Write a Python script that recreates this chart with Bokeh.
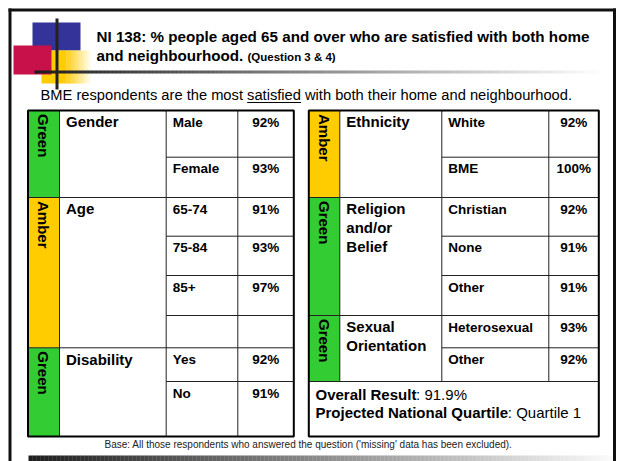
import math
import numpy as np
from bokeh.plotting import figure
from bokeh.models import Range1d
from bokeh.embed import file_html
from bokeh.resources import INLINE
from bokeh.core.properties import value

# ---------------- data ----------------
title_line1 = "NI 138: % people aged 65 and over who are satisfied with both home"
title_line2 = "and neighbourhood."
title_note = "(Question 3 & 4)"
subtitle = "BME respondents are the most satisfied with both their home and neighbourhood."
base_note = "Base: All those respondents who answered the question ('missing' data has been excluded)."

left_groups = ["Gender", "Age", "Disability"]
left_ratings = ["Green", "Amber", "Green"]
left_items = [["Male", "Female"], ["65-74", "75-84", "85+", ""], ["Yes", "No"]]
left_values = [[92, 93], [91, 93, 97, None], [92, 91]]

right_groups = ["Ethnicity", "Religion\nand/or\nBelief", "Sexual\nOrientation"]
right_ratings = ["Amber", "Green", "Green"]
right_items = [["White", "BME"], ["Christian", "None", "Other"], ["Heterosexual", "Other"]]
right_values = [[92, 100], [92, 91, 91], [93, 92]]

overall_label = "Overall Result"
overall_value = 91.9
quartile_label = "Projected National Quartile"
quartile_value = "Quartile 1"

# ---------------- layout (page pixels) ----------------
W, H = 618, 461
def X(px):
    return px
def Y(py):
    return H - py
def TB(baseline, size):
    # y for a 'middle'-anchored text whose baseline should sit at `baseline`
    return Y(baseline - 0.37 * size)

FONT = value("Liberation Sans")
RATING_COLORS = {"Green": "#33CC33", "Amber": "#FFCC00"}
L_COLS = [27.5, 59, 165.7, 237.3, 293.3]
R_COLS = [308.3, 339.3, 441.3, 548.3, 598.3]
ROW_EDGES = [110, 156.7, 197, 235.7, 275, 315, 347.3, 381, 436]

p = figure(width=W, height=H, x_range=Range1d(0, W), y_range=Range1d(0, H),
           output_backend="svg", toolbar_location=None, min_border=0,
           x_axis_location=None, y_axis_location=None)
p.grid.visible = False
p.outline_line_color = None
p.background_fill_color = "white"
p.border_fill_color = "white"


def mix(c0, c1, t):
    return "#%02x%02x%02x" % tuple(int(round(a + (b - a) * t)) for a, b in zip(c0, c1))


# ---------------- slide frame ----------------
p.segment(x0=[X(8), X(9.5), X(614)], y0=[Y(9.5), Y(8), Y(8)],
          x1=[X(615.5), X(9.5), X(614)], y1=[Y(9.5), Y(461), Y(461)],
          line_color="#111111", line_width=3)
bx = np.linspace(28, 612, 147)
p.quad(left=[X(a) for a in bx[:-1]], right=[X(b) + 0.3 for b in bx[1:]],
       top=Y(455), bottom=Y(461),
       color=[mix((30, 30, 30), (250, 250, 250), t) for t in np.linspace(0, 1, len(bx) - 1)],
       line_color=None)

# ---------------- logo ----------------
p.quad(left=X(32), right=X(80), top=Y(22), bottom=Y(50), color="#333399", line_color=None)
p.quad(left=X(41), right=X(66), top=Y(50), bottom=Y(83), color="#FFCC00", line_color=None)
gx = np.linspace(66, 92, 27)
p.quad(left=[X(a) for a in gx[:-1]], right=[X(b) + 0.3 for b in gx[1:]],
       top=Y(50), bottom=Y(83),
       color=[mix((255, 204, 0), (255, 255, 255), t) for t in np.linspace(0, 1, len(gx) - 1)],
       line_color=None)
p.quad(left=X(13), right=X(51), top=Y(45), bottom=Y(74), color="#C8104A", line_color=None)
p.segment(x0=X(56.5), y0=Y(18), x1=X(56.5), y1=Y(89), line_color="#222222", line_width=3)
hx = np.linspace(34, 606, 144)
p.segment(x0=[X(a) for a in hx[:-1]], x1=[X(b) + 0.3 for b in hx[1:]],
          y0=Y(71.5), y1=Y(71.5), line_width=3,
          line_color=[mix((26, 26, 26), (255, 255, 255), t) for t in np.linspace(0, 1, len(hx) - 1)])

# ---------------- titles ----------------
p.text(x=[X(96), X(96)], y=[TB(42, 15.2), TB(61, 15.2)], text=[title_line1, title_line2],
       text_font=FONT, text_font_style="bold", text_font_size="15.2px",
       text_color="#000000", text_baseline="middle")
p.text(x=X(247), y=TB(61, 11.5), text=[title_note], text_font=FONT, text_font_style="bold",
       text_font_size="11.5px", text_color="#000000", text_baseline="middle")
p.text(x=X(40), y=TB(100, 14.7), text=[subtitle], text_font=FONT, text_font_size="14.7px",
       text_color="#000000", text_baseline="middle")
p.segment(x0=X(246.7), x1=X(300.6), y0=Y(102), y1=Y(102), line_color="#000000", line_width=1)
p.text(x=X(104), y=TB(448, 10), text=[base_note], text_font=FONT, text_font_size="10px",
       text_color="#222222", text_baseline="middle")


# ---------------- tables ----------------
def draw_table(cols, groups, ratings, items, values, with_overall):
    spans = []
    r = 0
    for its in items:
        spans.append((r, r + len(its)))
        r += len(its)
    n_rows = r
    top, bottom = ROW_EDGES[0], ROW_EDGES[-1]
    data_bottom = ROW_EDGES[n_rows]

    # rating fills
    p.quad(left=X(cols[0]), right=X(cols[1]),
           top=[Y(ROW_EDGES[s]) for s, e in spans],
           bottom=[Y(ROW_EDGES[e]) for s, e in spans],
           color=[RATING_COLORS[c] for c in ratings], line_color=None)

    xs0, ys0, xs1, ys1 = [], [], [], []
    for s, e in spans[1:]:
        xs0.append(X(cols[0])); xs1.append(X(cols[4]))
        ys0.append(Y(ROW_EDGES[s])); ys1.append(Y(ROW_EDGES[s]))
    if with_overall:
        xs0.append(X(cols[0])); xs1.append(X(cols[4]))
        ys0.append(Y(data_bottom)); ys1.append(Y(data_bottom))
    for s, e in spans:
        for k in range(s + 1, e):
            xs0.append(X(cols[2])); xs1.append(X(cols[4]))
            ys0.append(Y(ROW_EDGES[k])); ys1.append(Y(ROW_EDGES[k]))
    for c in cols[1:4]:
        xs0.append(X(c)); xs1.append(X(c))
        ys0.append(Y(top)); ys1.append(Y(data_bottom))
    p.segment(x0=xs0, y0=ys0, x1=xs1, y1=ys1, line_color="#222222", line_width=1)

    p.quad(left=X(cols[0]), right=X(cols[4]), top=Y(top), bottom=Y(bottom),
           fill_color=None, line_color="#000000", line_width=2)

    # rating labels (vertical, reading downwards)
    p.text(x=X((cols[0] + cols[1]) / 2), y=[Y(ROW_EDGES[s] + 3.5) for s, e in spans],
           text=ratings, angle=-math.pi / 2, text_font=FONT, text_font_style="bold",
           text_font_size="15px", text_color="#000000",
           text_align="left", text_baseline="middle")

    gx_, gy_, gt_ = [], [], []
    for (s, e), g in zip(spans, groups):
        for i, line in enumerate(g.split("\n")):
            gx_.append(X(cols[1] + 6.5)); gy_.append(TB(ROW_EDGES[s] + 17 + 19 * i, 15)); gt_.append(line)
    p.text(x=gx_, y=gy_, text=gt_, text_font=FONT, text_font_style="bold",
           text_font_size="15px", text_color="#000000", text_baseline="middle")

    iy, it, vt = [], [], []
    for (s, e), its, vals in zip(spans, items, values):
        for k, (lab, v) in enumerate(zip(its, vals)):
            iy.append(TB(ROW_EDGES[s + k] + 16.5, 13.5))
            it.append(lab)
            vt.append("" if v is None else f"{v}%")
    p.text(x=X(cols[2] + 6.5), y=iy, text=it, text_font=FONT, text_font_style="bold",
           text_font_size="13.5px", text_color="#000000", text_baseline="middle")
    p.text(x=X((cols[3] + cols[4]) / 2), y=iy, text=vt, text_font=FONT, text_font_style="bold",
           text_font_size="13.5px", text_color="#000000", text_baseline="middle",
           text_align="center")
    return data_bottom


draw_table(L_COLS, left_groups, left_ratings, left_items, left_values, False)
ob = draw_table(R_COLS, right_groups, right_ratings, right_items, right_values, True)

ox = X(R_COLS[0] + 6.7)
p.text(x=[ox, ox], y=[TB(ob + 19, 15), TB(ob + 37, 15)], text=[overall_label, quartile_label],
       text_font=FONT, text_font_style="bold", text_font_size="15px",
       text_color="#000000", text_baseline="middle")
p.text(x=[X(415.6), X(507.3)], y=[TB(ob + 19, 15), TB(ob + 37, 15)],
       text=[f": {overall_value}%", f": {quartile_value}"],
       text_font=FONT, text_font_size="15px", text_color="#000000", text_baseline="middle")

open("out.html", "w").write(file_html(p, INLINE))
